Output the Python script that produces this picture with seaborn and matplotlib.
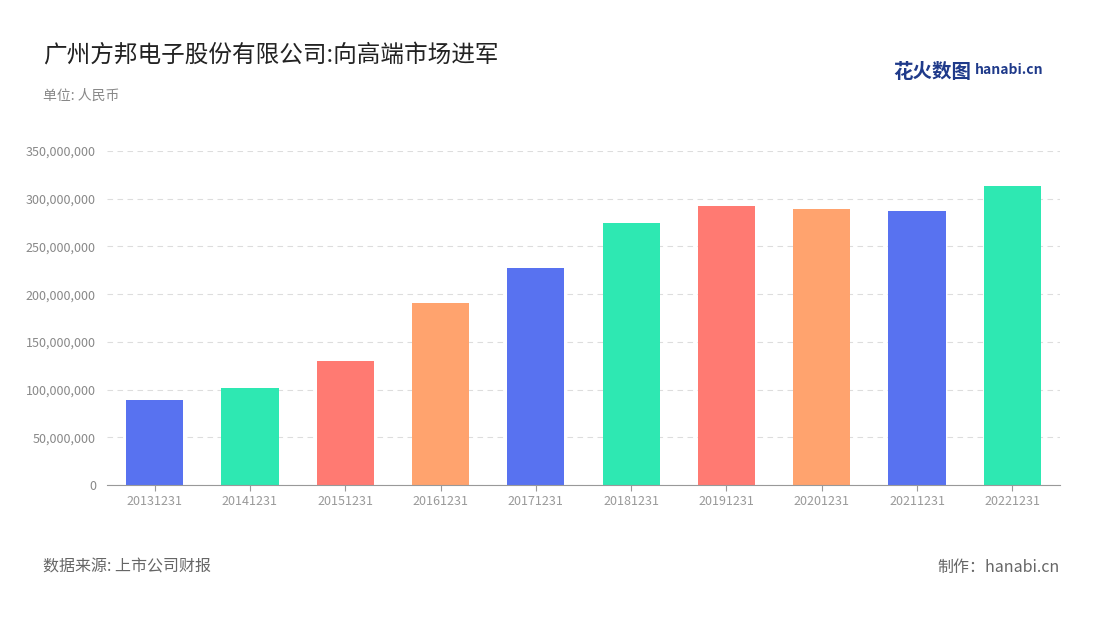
import matplotlib
matplotlib.use("Agg")
import matplotlib.pyplot as plt
import seaborn as sns
import pandas as pd
from matplotlib.ticker import FuncFormatter

plt.rcParams["font.family"] = ["Noto Sans CJK SC", "DejaVu Sans"]

years = ["20131231","20141231","20151231","20161231","20171231","20181231","20191231","20201231","20211231","20221231"]
revenue = [89.5e6, 101.5e6, 130e6, 191e6, 227e6, 275e6, 292e6, 289e6, 287e6, 313e6]
palette = ["#5872F0","#2EE8B2","#FF7A72","#FFA36E"]
colors = [palette[i % 4] for i in range(len(years))]

df = pd.DataFrame({"year": years, "revenue": revenue})

fig = plt.figure(figsize=(11, 6.2), dpi=100)
ax = fig.add_axes([107/1100, 1-485/620, (1060-107)/1100, (485-151)/620])
sns.barplot(data=df, x="year", y="revenue", hue="year", palette=colors, legend=False, width=0.6, ax=ax, saturation=1)
ax.set_ylim(0, 350e6)
ax.set_yticks(range(0, 350000001, 50000000))
ax.yaxis.set_major_formatter(FuncFormatter(lambda v, p: f"{int(v):,}"))
ax.set_xlabel(""); ax.set_ylabel("")
ax.grid(axis="y", linestyle=(0, (5, 4)), color="#dddddd", linewidth=0.8)
ax.set_axisbelow(True)
for s in ["top", "right", "left"]:
    ax.spines[s].set_visible(False)
ax.spines["bottom"].set_color("#999999")
ax.tick_params(axis="y", length=0, labelsize=9, labelcolor="#888888", pad=8)
ax.tick_params(axis="x", length=4, color="#999999", labelsize=9, labelcolor="#999999")

fig.text(43/1100, 1-55/620, "广州方邦电子股份有限公司:向高端市场进军", fontsize=17, color="#222222", va="center")
fig.text(43/1100, 1-96/620, "单位: 人民币", fontsize=10, color="#888888", va="center")
fig.text(43/1100, 1-567/620, "数据来源: 上市公司财报", fontsize=11.5, color="#666666", va="center")
fig.text(1060/1100, 1-567/620, "制作：hanabi.cn", fontsize=11.5, color="#666666", va="center", ha="right")
fig.text(893/1100, 1-72/620, "花火数图", fontsize=14, color="#1f3a8a", va="center", fontweight="bold")
fig.text(975/1100, 1-70/620, "hanabi.cn", fontsize=10, color="#1f3a8a", va="center", fontweight="bold")
fig.savefig("out.png", dpi=100)
